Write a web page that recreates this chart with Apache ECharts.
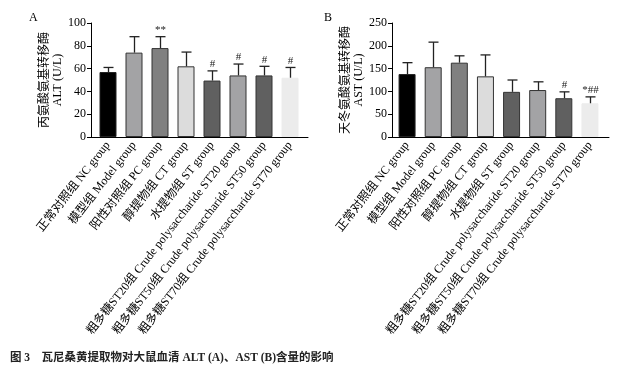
<!DOCTYPE html>
<html><head><meta charset="utf-8">
<script src="https://cdn.jsdelivr.net/npm/echarts@6/dist/echarts.min.js"></script>
<style>html,body{margin:0;padding:0;background:#fff}#c{width:637px;height:374px}</style>
</head><body><div id="c"></div>
<script>
const categories = [
  '正常对照组 NC group',
  '模型组 Model group',
  '阳性对照组 PC group',
  '醇提物组 CT group',
  '水提物组 ST group',
  '粗多糖ST20组 Crude polysaccharide ST20 group',
  '粗多糖ST50组 Crude polysaccharide ST50 group',
  '粗多糖ST70组 Crude polysaccharide ST70 group'
];
const altMean = [57, 74, 78, 62, 49.5, 54, 54, 52];
const altUpper = [61, 88, 88, 74.5, 58, 64, 62, 61];
const altMarks = ['', '', '**', '', '#', '#', '#', '#'];
const astMean = [138, 153, 163, 133, 99, 103, 85, 74];
const astUpper = [163, 208, 178, 180, 125, 121, 99, 88];
const astMarks = ['', '', '', '', '', '', '#', '*##'];
const altTicks = [0, 20, 40, 60, 80, 100];
const astTicks = [0, 50, 100, 150, 200, 250];
const barColors = ['#000000', '#a3a3a5', '#808080', '#dcdcdc', '#606060', '#a3a3a5', '#606060', '#ececec'];
const barBorders = ['#222', '#333', '#333', '#333', '#333', '#333', '#333', '#ececec'];

const SERIF = "'Liberation Serif','Times New Roman','Noto Sans CJK SC',serif";
const chart = echarts.init(document.getElementById('c'), null, {renderer: 'canvas'});

function frameY(gridIndex, ticks, name) {
  return {
    type: 'value', gridIndex: gridIndex, min: ticks[0], max: ticks[ticks.length - 1],
    interval: ticks[1] - ticks[0],
    axisLine: {show: true, lineStyle: {color: '#000', width: 1}},
    axisTick: {show: true, inside: false, length: 4, lineStyle: {color: '#000'}},
    axisLabel: {color: '#000', fontSize: 12, fontFamily: SERIF, margin: 5},
    splitLine: {show: false},
    name: name, nameLocation: 'middle', nameGap: 27, nameRotate: 90,
    nameTextStyle: {color: '#000', fontSize: 12, fontFamily: SERIF, lineHeight: 13}
  };
}
function hiddenY(gridIndex, ticks) {
  return {
    type: 'value', gridIndex: gridIndex, min: ticks[0], max: ticks[ticks.length - 1],
    interval: ticks[1] - ticks[0], show: false, splitLine: {show: false}
  };
}
function frameX(gridIndex) {
  return {
    type: 'value', gridIndex: gridIndex, min: 0, max: 1,
    axisLine: {show: true, onZero: false, lineStyle: {color: '#000', width: 1}},
    axisTick: {show: false}, axisLabel: {show: false}, splitLine: {show: false}
  };
}
function barX(gridIndex) {
  return {
    type: 'category', gridIndex: gridIndex, data: categories,
    axisLine: {show: false}, axisTick: {show: false},
    axisLabel: {interval: 0, rotate: 52, color: '#000', fontSize: 12, fontFamily: SERIF, margin: 6}
  };
}
function barSeries(axisIdx, means) {
  return {
    type: 'bar', xAxisIndex: axisIdx, yAxisIndex: axisIdx, barWidth: 17,
    data: means.map((v, i) => ({value: v, itemStyle: {color: barColors[i], borderColor: barBorders[i], borderWidth: 1}})),
    z: 2
  };
}
function errSeries(axisIdx, means, uppers, marks) {
  return {
    type: 'custom', xAxisIndex: axisIdx, yAxisIndex: axisIdx, z: 3,
    data: means.map((v, i) => [i, v, uppers[i]]),
    renderItem: function (params, api) {
      const i = api.value(0);
      const p0 = api.coord([i, api.value(1)]);
      const p1 = api.coord([i, api.value(2)]);
      const x = Math.round(p0[0]) + 0.5;
      const children = [
        {type: 'line', shape: {x1: x, y1: p0[1], x2: x, y2: p1[1]}, style: {stroke: '#222', lineWidth: 1.3}},
        {type: 'line', shape: {x1: x - 5, y1: p1[1], x2: x + 5, y2: p1[1]}, style: {stroke: '#222', lineWidth: 1.3}}
      ];
      const m = marks[params.dataIndex];
      if (m) {
        children.push({type: 'text', x: x, y: p1[1] - 1, style: {text: m, fill: '#222', font: '11px ' + SERIF, textAlign: 'center', textVerticalAlign: 'bottom'}});
      }
      return {type: 'group', children: children};
    }
  };
}

chart.setOption({
  animation: false,
  backgroundColor: '#fff',
  grid: [
    {left: 91, width: 217, top: 23, bottom: 237},
    {left: 95, width: 208, top: 23, bottom: 237},
    {left: 392, width: 217, top: 23, bottom: 237},
    {left: 394, width: 209, top: 23, bottom: 237}
  ],
  xAxis: [frameX(0), barX(1), frameX(2), barX(3)],
  yAxis: [
    frameY(0, altTicks, '丙氨酸氨基转移酶\nALT (U/L)'),
    hiddenY(1, altTicks),
    frameY(2, astTicks, '天冬氨酸氨基转移酶\nAST (U/L)'),
    hiddenY(3, astTicks)
  ],
  series: [
    barSeries(1, altMean), errSeries(1, altMean, altUpper, altMarks),
    barSeries(3, astMean), errSeries(3, astMean, astUpper, astMarks)
  ],
  graphic: [
    {type: 'text', left: 29, top: 12, style: {text: 'A', fill: '#000', font: '12px ' + SERIF}},
    {type: 'text', left: 324, top: 12, style: {text: 'B', fill: '#000', font: '12px ' + SERIF}},
    {type: 'text', left: 10, top: 352, style: {text: '图 3　瓦尼桑黄提取物对大鼠血清 ALT (A)、AST (B)含量的影响', fill: '#222', font: 'bold 11.5px ' + SERIF}}
  ]
});
</script>
</body></html>
